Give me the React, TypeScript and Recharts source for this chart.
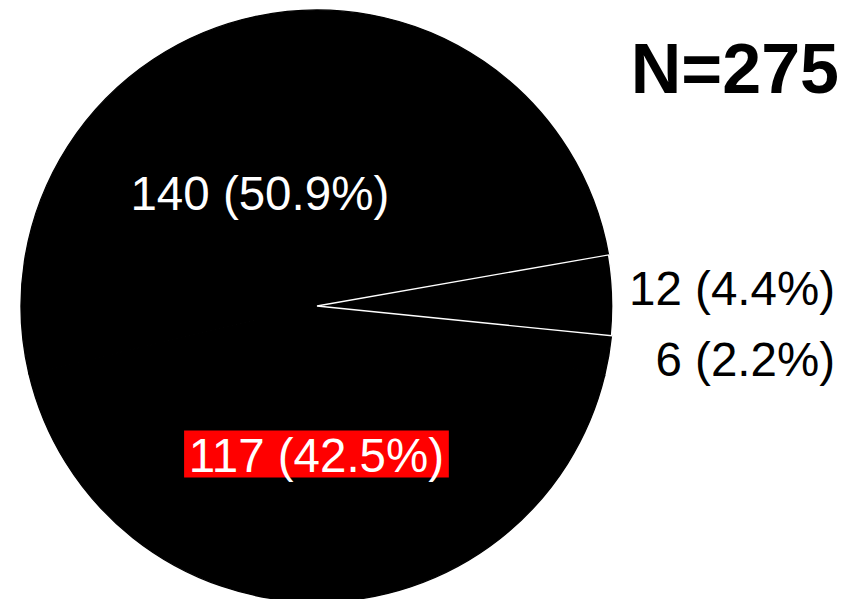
import { PieChart, Pie, Cell } from "recharts"

// slice order runs counter-clockwise from the start angle
const groups = ["g1", "g2", "g3", "g4"]
const counts = [140, 117, 6, 12]

const total = counts.reduce((a, b) => a + b, 0)
const data = groups.map((name, i) => ({ name, value: counts[i] }))

const FONT = "'Liberation Sans', Arial, Helvetica, sans-serif"
const LABEL_SIZE = 47.5
const RADIAN = Math.PI / 180

// rough Arial advance widths, used for the red box behind one label
const charWidth: Record<string, number> = { " ": 0.278, "(": 0.333, ")": 0.333, ".": 0.278, "%": 0.889 }
const textWidth = (s: string, size: number) =>
  s.split("").reduce((w, c) => w + (charWidth[c] ?? 0.556), 0) * size

// how each slice label is placed: inside labels sit on a ray, outside ones are right aligned
const placement = [
  { inside: true, r: 126, shift: 15.4 },
  { inside: true, r: 150, shift: 0, box: "#ff0000" },
  { inside: false, r: 311, shift: -0.3 },
  { inside: false, r: 311, shift: 1.1 },
]

function renderLabel(props: any) {
  const { cx, cy, midAngle, outerRadius, index, value } = props
  const p = placement[index]
  const txt = `${value} (${((value / total) * 100).toFixed(1)}%)`
  const a = (midAngle + p.shift) * RADIAN
  const midY = cy - p.r * Math.sin(a)
  const baseline = midY + 16.5
  if (p.inside) {
    const x = cx + p.r * Math.cos(a)
    const w = textWidth(txt, LABEL_SIZE)
    return (
      <g key={`lbl-${index}`}>
        {p.box && (
          <rect x={x - w / 2 - 3} y={baseline - 42} width={w + 6} height={47} fill={p.box} />
        )}
        <text x={x} y={baseline} textAnchor="middle" fill="#fff" fontSize={LABEL_SIZE} fontFamily={FONT}>
          {txt}
        </text>
      </g>
    )
  }
  return (
    <text
      key={`lbl-${index}`}
      x={cx + outerRadius + 222}
      y={baseline}
      textAnchor="end"
      fill="#000"
      fontSize={LABEL_SIZE}
      fontFamily={FONT}
    >
      {txt}
    </text>
  )
}

const strokes = ["#000", "#000", "#000", "#fff"]

export default function App() {
  return (
    <div style={{ position: "absolute", left: 0, top: 0, width: 858, height: 599, background: "#fff", overflow: "hidden" }}>
      <PieChart width={858} height={599} margin={{ top: 0, right: 0, bottom: 0, left: 0 }}>
        <Pie
          data={data}
          dataKey="value"
          nameKey="name"
          cx={317}
          cy={306}
          outerRadius={296}
          startAngle={9.94}
          endAngle={369.94}
          label={renderLabel}
          labelLine={false}
          isAnimationActive={false}
        >
          {data.map((d, i) => (
            <Cell key={d.name} fill="#000" stroke={strokes[i]} strokeWidth={1.3} />
          ))}
        </Pie>
      </PieChart>
      <svg width={858} height={599} style={{ position: "absolute", left: 0, top: 0, pointerEvents: "none" }}>
        <text x={839} y={93} textAnchor="end" fontSize={70} fontWeight="bold" fontFamily={FONT} fill="#000">
          {`N=${total}`}
        </text>
      </svg>
    </div>
  )
}
